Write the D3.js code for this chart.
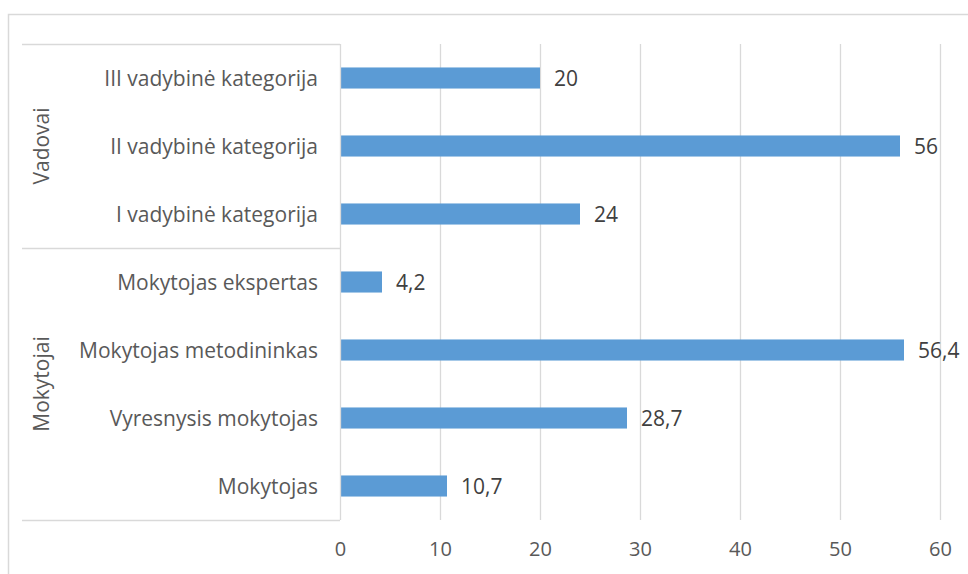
<!DOCTYPE html>
<html>
<head>
<meta charset="utf-8">
<script src="https://cdn.jsdelivr.net/npm/d3@7"></script>
<style>
  html, body { margin: 0; padding: 0; background: #fff; }
  svg { display: block; }
  text { font-family: "Open Sans", "Noto Sans", sans-serif; fill: #595959; }
</style>
</head>
<body>
<svg id="chart" width="968" height="574"></svg>
<script>
// Data (top to bottom as drawn)
const categories = [
  "III vadybinė kategorija",
  "II vadybinė kategorija",
  "I vadybinė kategorija",
  "Mokytojas ekspertas",
  "Mokytojas metodininkas",
  "Vyresnysis mokytojas",
  "Mokytojas"
];
const values = [20, 56, 24, 4.2, 56.4, 28.7, 10.7];
const labels = ["20", "56", "24", "4,2", "56,4", "28,7", "10,7"];
const groups = ["Vadovai", "Mokytojai"];
const groupSizes = [3, 4];
const xTicks = [0, 10, 20, 30, 40, 50, 60];

(function () {
const svg = d3.select("#chart");
const pLeft = 340, pRight = 940, pTop = 44, pBottom = 520;
const grid = "#d9d9d9";
const fs = 21;

// outer chart border (extends beyond the visible area on right/bottom)
svg.append("rect")
  .attr("x", 8.5).attr("y", 14.5)
  .attr("width", 1000).attr("height", 1000)
  .attr("fill", "none").attr("stroke", grid).attr("stroke-width", 1.5);

const x = d3.scaleLinear().domain([0, 60]).range([pLeft, pRight]);
const y = d3.scaleBand().domain(categories).range([pTop, pBottom]).paddingInner(0.69).paddingOuter(0.345);

// gridlines
svg.append("g").selectAll("line").data(xTicks.slice(1)).join("line")
  .attr("x1", d => Math.round(x(d)) + 0.5).attr("x2", d => Math.round(x(d)) + 0.5)
  .attr("y1", pTop).attr("y2", pBottom)
  .attr("stroke", grid).attr("stroke-width", 1.3);

// x axis tick labels
const xAxis = d3.axisBottom(x).tickValues(xTicks).tickSize(0).tickPadding(0).tickFormat(d3.format("d"));
const gx = svg.append("g").attr("transform", `translate(0, ${pBottom + 29})`).call(xAxis);
gx.select(".domain").remove();
gx.selectAll("text").attr("font-size", 20).attr("fill", "#595959")
  .style("font-family", "'Open Sans', sans-serif").attr("dy", "0.36em");

// bars
svg.append("g").selectAll("rect").data(values).join("rect")
  .attr("x", x(0))
  .attr("y", (d, i) => y(categories[i]))
  .attr("width", d => x(d) - x(0))
  .attr("height", y.bandwidth())
  .attr("fill", "#5b9bd5");

// value labels
svg.append("g").selectAll("text").data(values).join("text")
  .attr("x", d => x(d) + 14)
  .attr("y", (d, i) => y(categories[i]) + y.bandwidth() / 2)
  .attr("dy", "0.36em")
  .attr("font-size", fs)
  .style("fill", "#404040")
  .text((d, i) => labels[i]);

// vertical axis line
svg.append("line").attr("x1", pLeft + 0.5).attr("x2", pLeft + 0.5)
  .attr("y1", pTop).attr("y2", pBottom).attr("stroke", grid).attr("stroke-width", 1.3);

// category labels
const yAxis = d3.axisLeft(y).tickSize(0).tickPadding(22);
const gy = svg.append("g").attr("transform", `translate(${pLeft}, 0)`).call(yAxis);
gy.select(".domain").remove();
gy.selectAll("text").attr("font-size", fs).attr("fill", "#595959").attr("dy", "0.36em")
  .style("font-family", "'Open Sans', sans-serif");

// group separators and labels
const step = y.step();
let start = 0;
const seps = [pTop];
groups.forEach((g, gi) => {
  const y0 = pTop + start * step;
  const y1 = pTop + (start + groupSizes[gi]) * step;
  seps.push(y1);
  svg.append("text")
    .attr("transform", `translate(41, ${(y0 + y1) / 2}) rotate(-90)`)
    .attr("text-anchor", "middle")
    .attr("dy", "0.36em")
    .attr("font-size", fs)
    .text(g);
  start += groupSizes[gi];
});
svg.append("g").selectAll("line").data(seps).join("line")
  .attr("x1", 22).attr("x2", pLeft)
  .attr("y1", d => Math.round(d) + 0.5).attr("y2", d => Math.round(d) + 0.5)
  .attr("stroke", grid).attr("stroke-width", 1.3);
})();
</script>
</body>
</html>
